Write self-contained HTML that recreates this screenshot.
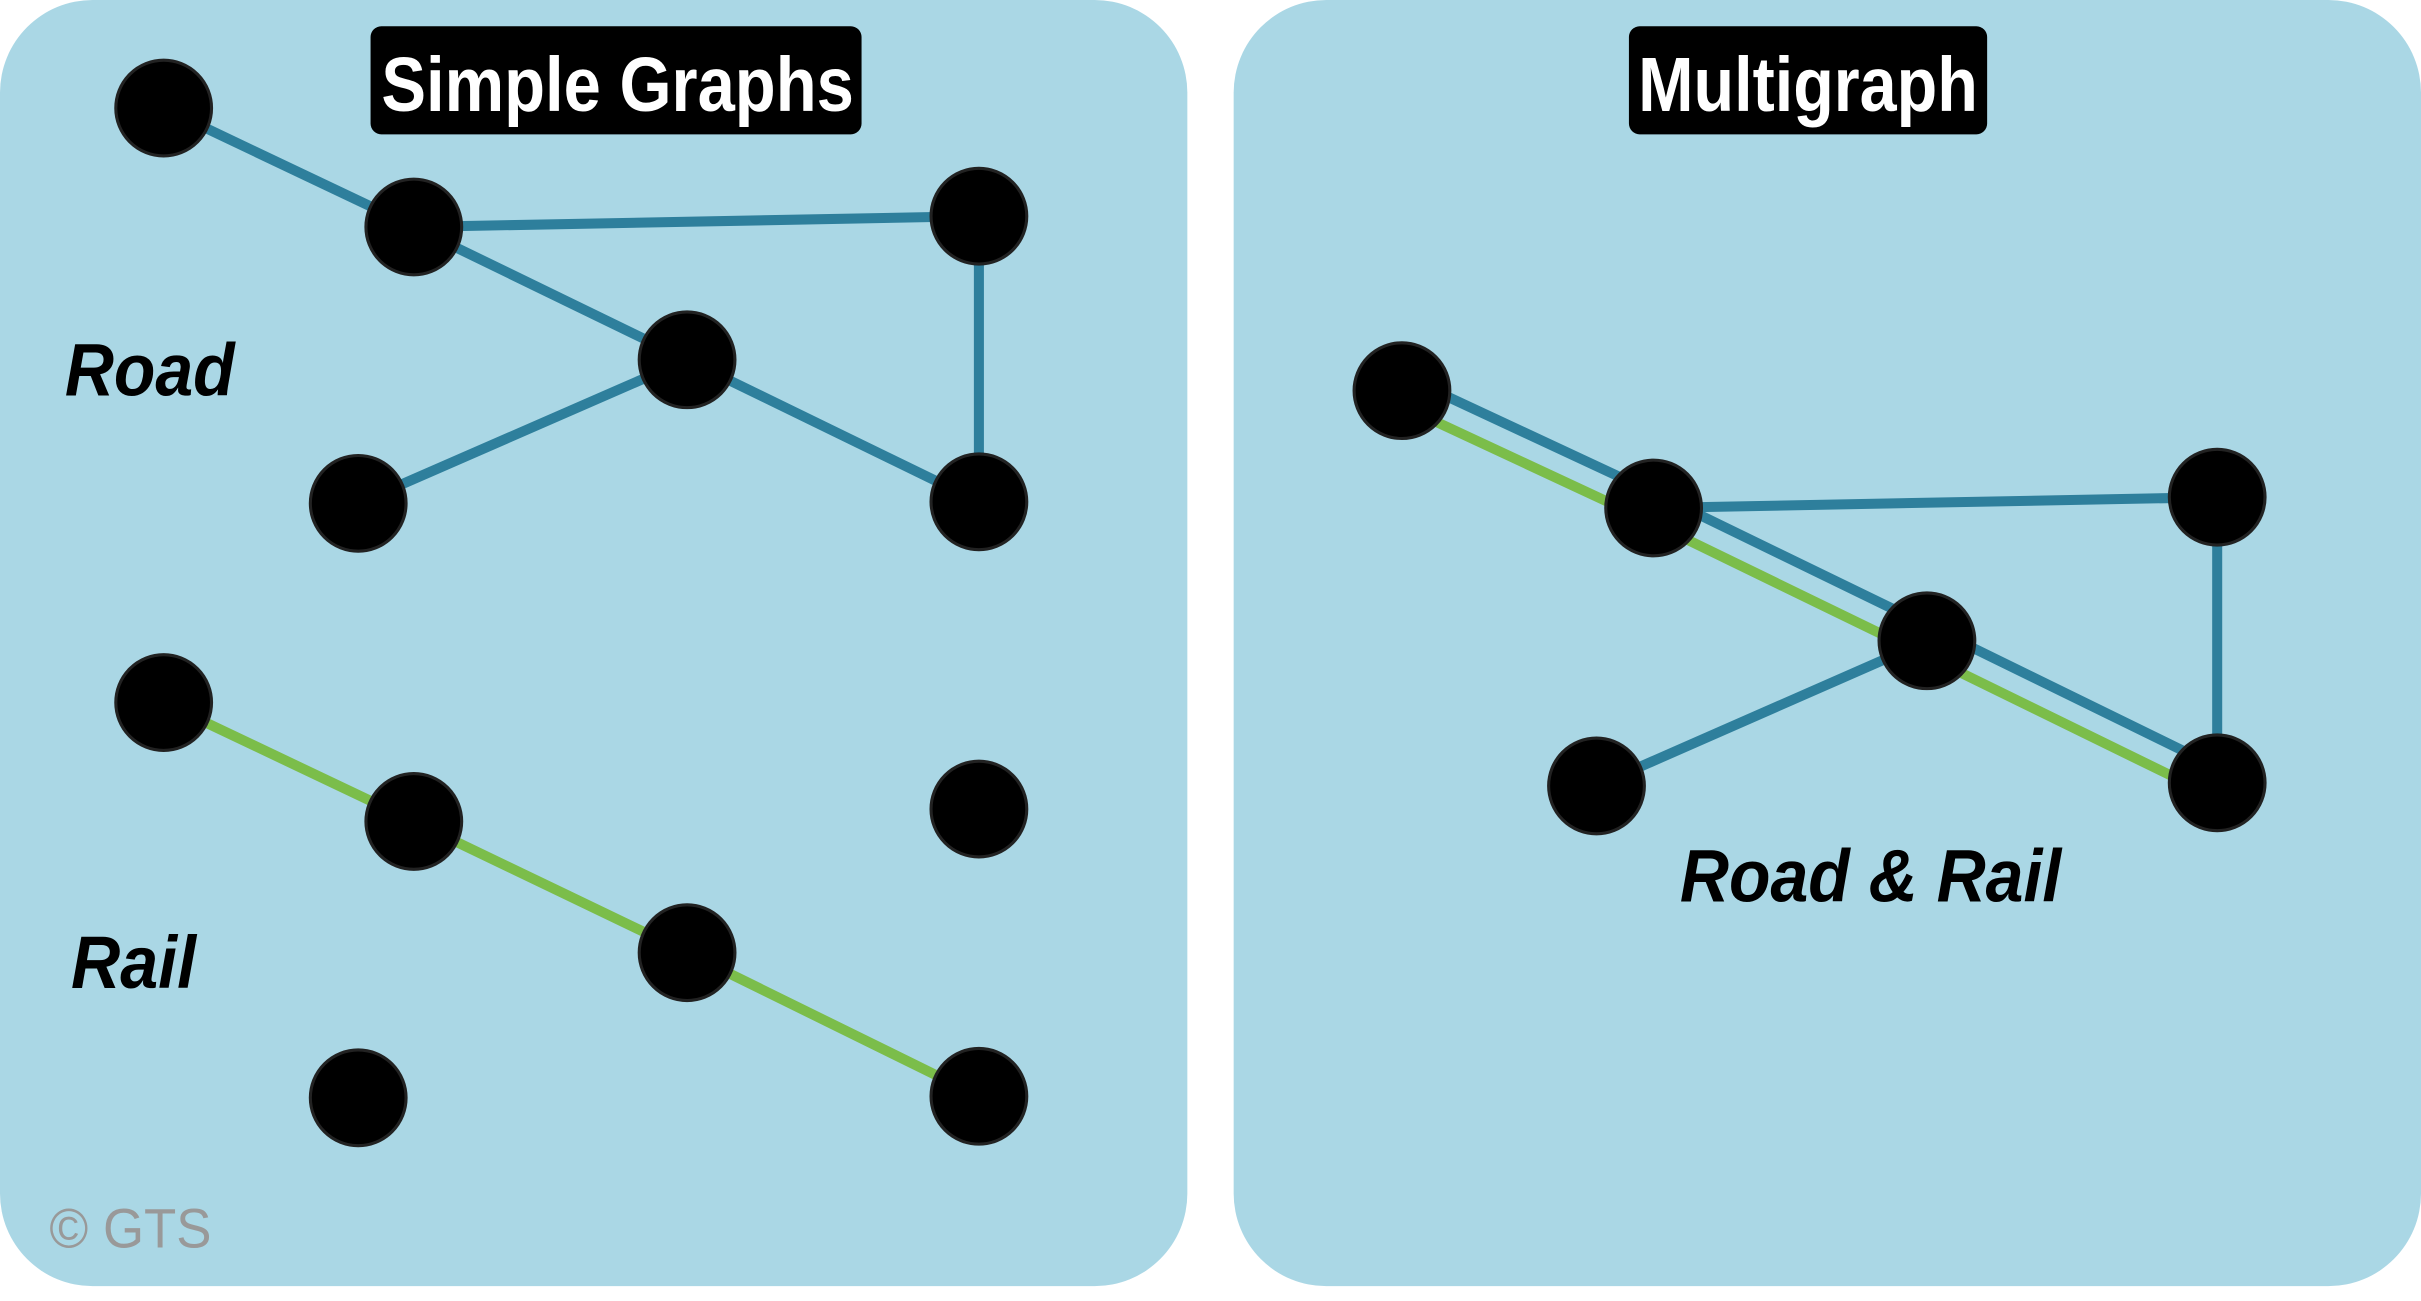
<!DOCTYPE html>
<html><head><style>html,body{margin:0;padding:0;background:#fff;}svg{display:block}</style></head>
<body>
<svg width="2421" height="1301" viewBox="0 0 1568 842.6" preserveAspectRatio="none" xmlns="http://www.w3.org/2000/svg">
<rect x="0" y="0" width="1568" height="843" fill="#fff"/>
<rect x="0" y="0" width="769" height="833" rx="60" fill="#aad7e5"/>
<rect x="799" y="0" width="769" height="833" rx="60" fill="#aad7e5"/>
<rect x="240" y="17" width="318" height="70" rx="7" fill="#000"/>
<text x="247" y="72" font-family="Liberation Sans, sans-serif" font-weight="bold" font-size="50" fill="#fff" textLength="306" lengthAdjust="spacingAndGlyphs">Simple Graphs</text>
<rect x="1055" y="17" width="232" height="70" rx="7" fill="#000"/>
<text x="1061" y="72" font-family="Liberation Sans, sans-serif" font-weight="bold" font-size="50" fill="#fff" textLength="220" lengthAdjust="spacingAndGlyphs">Multigraph</text>
<g stroke="#2e7f9c" stroke-width="6.5" fill="none">
<line x1="106" y1="70" x2="268" y2="147"/><line x1="268" y1="147" x2="634" y2="140"/>
<line x1="634" y1="140" x2="634" y2="325"/><line x1="268" y1="147" x2="445" y2="233"/>
<line x1="445" y1="233" x2="634" y2="325"/><line x1="232" y1="326" x2="445" y2="233"/>
</g>
<g stroke="#7bbd4a" stroke-width="6.5" fill="none">
<polyline points="106,455 268,532 445,617 634,710"/>
</g>
<g stroke="#2e7f9c" stroke-width="6.5" fill="none">
<polyline points="912,245 1075,321 1252,407 1440,499"/>
<line x1="1071" y1="329" x2="1436" y2="322"/>
<line x1="1436" y1="322" x2="1436" y2="507"/>
<line x1="1034" y1="509" x2="1248" y2="415"/>
</g>
<g stroke="#7bbd4a" stroke-width="6.5" fill="none">
<polyline points="904,261 1067,337 1244,423 1432,515"/>
</g>
<g fill="#000" stroke="#222" stroke-width="2">
<circle cx="106" cy="70" r="31"/><circle cx="268" cy="147" r="31"/><circle cx="634" cy="140" r="31"/>
<circle cx="445" cy="233" r="31"/><circle cx="232" cy="326" r="31"/><circle cx="634" cy="325" r="31"/>
<circle cx="106" cy="455" r="31"/><circle cx="268" cy="532" r="31"/><circle cx="634" cy="524" r="31"/>
<circle cx="445" cy="617" r="31"/><circle cx="232" cy="711" r="31"/><circle cx="634" cy="710" r="31"/>
<circle cx="908" cy="253" r="31"/><circle cx="1071" cy="329" r="31"/><circle cx="1436" cy="322" r="31"/>
<circle cx="1248" cy="415" r="31"/><circle cx="1034" cy="509" r="31"/><circle cx="1436" cy="507" r="31"/>
</g>
<g font-family="Liberation Sans, sans-serif" font-weight="bold" font-style="italic" font-size="48" fill="#000">
<text x="42" y="256" textLength="110" lengthAdjust="spacingAndGlyphs">Road</text>
<text x="46" y="640" textLength="81" lengthAdjust="spacingAndGlyphs">Rail</text>
<text x="1088" y="584" textLength="247" lengthAdjust="spacingAndGlyphs">Road &amp; Rail</text>
</g>
<text x="32" y="808" font-family="Liberation Sans, sans-serif" font-size="36" fill="#999" textLength="105" lengthAdjust="spacingAndGlyphs">© GTS</text>
</svg>
</body></html>
